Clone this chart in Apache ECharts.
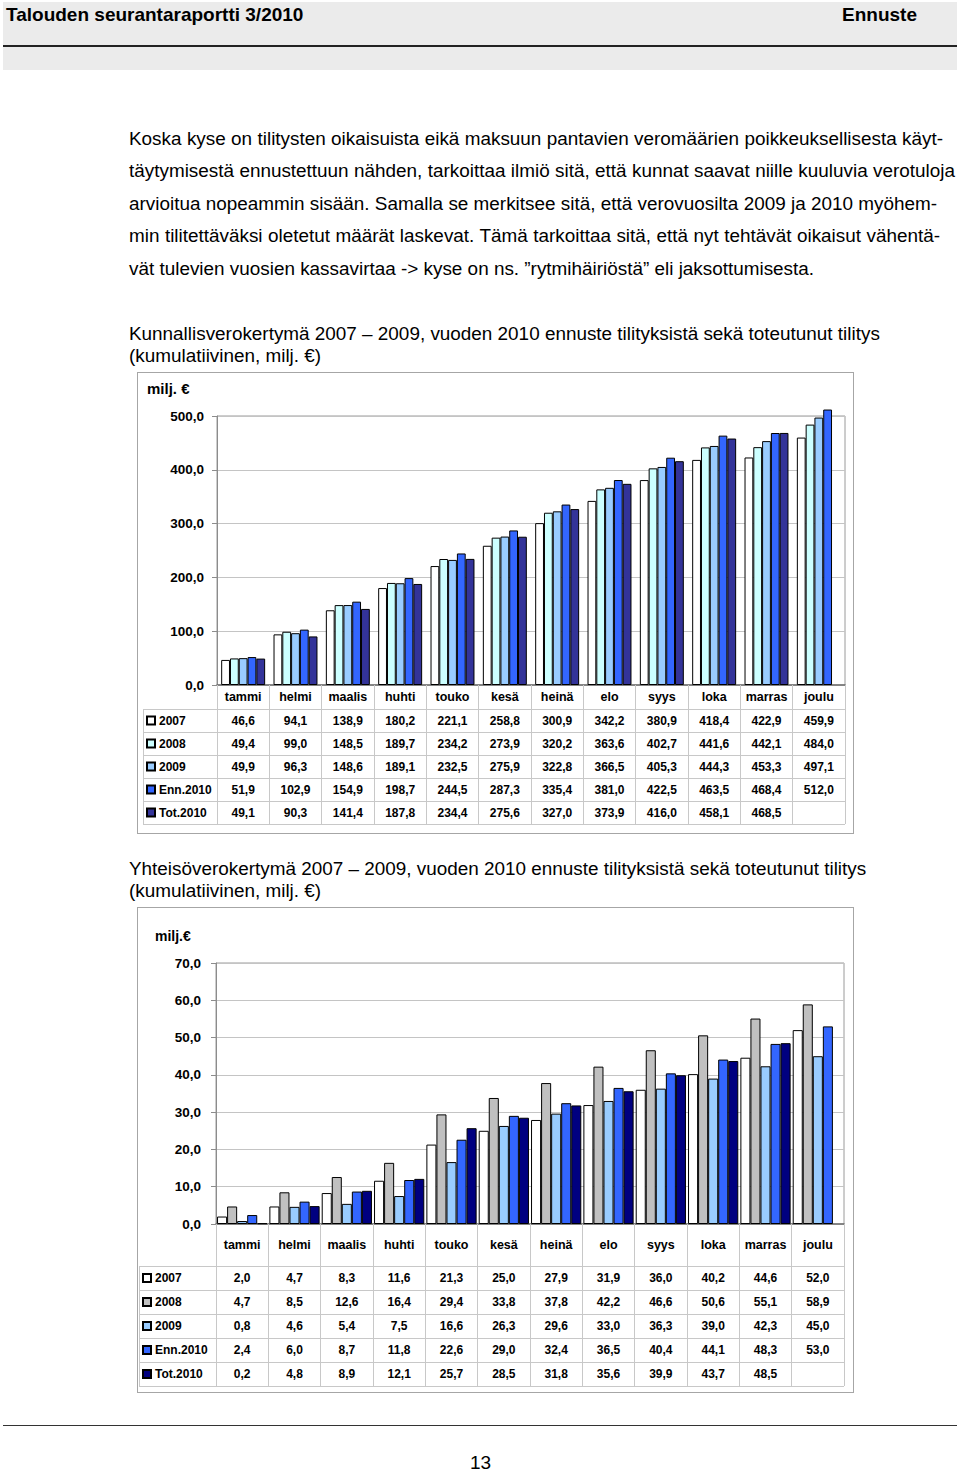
<!DOCTYPE html>
<html>
<head>
<meta charset="utf-8">
<script src="https://cdn.jsdelivr.net/npm/echarts@6/dist/echarts.min.js"></script>
<style>
  html, body { margin: 0; padding: 0; background: #fff; }
  body { width: 960px; height: 1473px; position: relative; font-family: Arial, "Liberation Sans", sans-serif; color: #000; overflow: hidden; }
  .abs { position: absolute; white-space: nowrap; }
  #band { position: absolute; left: 3px; top: 2px; width: 954px; height: 68px; background: #EBEBEB; }
  #bandline { position: absolute; left: 3px; top: 45px; width: 954px; height: 2px; background: #222; }
  .hdr { font-weight: bold; font-size: 19px; line-height: 22px; height: 22px; }
  .p { font-size: 18.9px; line-height: 22px; height: 22px; left: 129px; text-align: justify; text-align-last: justify; }
  .t { font-size: 18.9px; line-height: 22px; height: 22px; left: 129px; }
  .box { position: absolute; border: 1px solid #A6A6A6; box-sizing: border-box; }
  #footline { position: absolute; left: 3px; top: 1425px; width: 954px; height: 1px; background: #333; }
</style>
</head>
<body>
<div id="band"></div>
<div id="bandline"></div>
<div class="abs hdr" style="left:6px; top:4px;">Talouden seurantaraportti 3/2010</div>
<div class="abs hdr" style="right:43px; top:4px;">Ennuste</div>

<div class="abs p" style="top:128px; width:814px;">Koska kyse on tilitysten oikaisuista eikä maksuun pantavien veromäärien poikkeuksellisesta käyt-</div>
<div class="abs p" style="top:160px; width:826px;">täytymisestä ennustettuun nähden, tarkoittaa ilmiö sitä, että kunnat saavat niille kuuluvia verotuloja</div>
<div class="abs p" style="top:193px; width:808px;">arvioitua nopeammin sisään. Samalla se merkitsee sitä, että verovuosilta 2009 ja 2010 myöhem-</div>
<div class="abs p" style="top:225px; width:811px;">min tilitettäväksi oletetut määrät laskevat. Tämä tarkoittaa sitä, että nyt tehtävät oikaisut vähentä-</div>
<div class="abs t" style="top:258px;">vät tulevien vuosien kassavirtaa -&gt; kyse on ns. ”rytmihäiriöstä” eli jaksottumisesta.</div>

<div class="abs t" style="top:323px;">Kunnallisverokertymä 2007 – 2009, vuoden 2010 ennuste tilityksistä sekä toteutunut tilitys</div>
<div class="abs t" style="top:345px;">(kumulatiivinen, milj. €)</div>

<div class="box" id="c1" style="left:137px; top:372px; width:717px; height:462px;"></div>

<div class="abs t" style="top:858px;">Yhteisöverokertymä 2007 – 2009, vuoden 2010 ennuste tilityksistä sekä toteutunut tilitys</div>
<div class="abs t" style="top:880px;">(kumulatiivinen, milj. €)</div>

<div class="box" id="c2" style="left:137px; top:907px; width:717px; height:486px;"></div>

<div id="footline"></div>
<div class="abs" style="left:470px; top:1452px; font-size:19px; line-height:22px;">13</div>

<script>
// ---- data ----
const categories = ['tammi','helmi','maalis','huhti','touko','kesä','heinä','elo','syys','loka','marras','joulu'];
const seriesNames = ['2007','2008','2009','Enn.2010','Tot.2010'];

const kunta2007 = [46.6,94.1,138.9,180.2,221.1,258.8,300.9,342.2,380.9,418.4,422.9,459.9];
const kunta2008 = [49.4,99.0,148.5,189.7,234.2,273.9,320.2,363.6,402.7,441.6,442.1,484.0];
const kunta2009 = [49.9,96.3,148.6,189.1,232.5,275.9,322.8,366.5,405.3,444.3,453.3,497.1];
const kuntaEnn2010 = [51.9,102.9,154.9,198.7,244.5,287.3,335.4,381.0,422.5,463.5,468.4,512.0];
const kuntaTot2010 = [49.1,90.3,141.4,187.8,234.4,275.6,327.0,373.9,416.0,458.1,468.5,null];

const yhteis2007 = [2.0,4.7,8.3,11.6,21.3,25.0,27.9,31.9,36.0,40.2,44.6,52.0];
const yhteis2008 = [4.7,8.5,12.6,16.4,29.4,33.8,37.8,42.2,46.6,50.6,55.1,58.9];
const yhteis2009 = [0.8,4.6,5.4,7.5,16.6,26.3,29.6,33.0,36.3,39.0,42.3,45.0];
const yhteisEnn2010 = [2.4,6.0,8.7,11.8,22.6,29.0,32.4,36.5,40.4,44.1,48.3,53.0];
const yhteisTot2010 = [0.2,4.8,8.9,12.1,25.7,28.5,31.8,35.6,39.9,43.7,48.5,null];

const kuntaTicks = {min: 0, max: 500, interval: 100};
const yhteisTicks = {min: 0, max: 70, interval: 10};

const kuntaColors = ['#FFFFFF','#CCFFFF','#99CCFF','#3366FF','#333399'];
const yhteisColors = ['#FFFFFF','#C0C0C0','#99CCFF','#3366FF','#000080'];

// ---- helpers ----
const FONT = 'Arial, "Liberation Sans", sans-serif';
const fmt = v => (v === null || v === undefined) ? '' : v.toFixed(1).replace('.', ',');

function makeChart(domId, cfg) {
  const dom = document.getElementById(domId);
  const W = dom.clientWidth, H = dom.clientHeight;
  const chart = echarts.init(dom, null, {renderer: 'svg', width: W, height: H});
  const data = cfg.data;
  const g = cfg.grid;
  const tableTop = g.top + g.height + cfg.catRowH;
  const tableBottom = tableTop + cfg.rowH * seriesNames.length;
  const tableRight = g.left + g.width;

  const graphics = [];
  for (let i = 0; i <= seriesNames.length; i++) {
    const y = tableTop + i * cfg.rowH + 0.5;
    graphics.push({type: 'line', silent: true, z: 1,
      shape: {x1: cfg.legLeft, y1: y, x2: tableRight, y2: y},
      style: {stroke: '#C8C8C8', lineWidth: 1}});
  }
  graphics.push({type: 'line', silent: true, z: 1,
    shape: {x1: cfg.legLeft + 0.5, y1: tableTop, x2: cfg.legLeft + 0.5, y2: tableBottom},
    style: {stroke: '#C8C8C8', lineWidth: 1}});

  chart.setOption({
    animation: false,
    textStyle: {fontFamily: FONT},
    title: {text: cfg.unit, left: cfg.unitPos[0], top: cfg.unitPos[1], padding: 0,
      textStyle: {fontFamily: FONT, fontSize: cfg.unitSize, fontWeight: 'bold', color: '#000'}},
    grid: Object.assign({show: true, borderColor: '#9A9A9A', borderWidth: 1, containLabel: false}, g),
    legend: {
      orient: 'vertical', left: cfg.legLeft + 3, top: tableTop, itemGap: 0,
      itemWidth: 8, itemHeight: 8, selectedMode: false, icon: 'rect',
      data: seriesNames,
      textStyle: {fontFamily: FONT, fontSize: 12, fontWeight: 'bold', color: '#000', lineHeight: cfg.rowH, padding: [0,0,0,-1]},
      padding: 0
    },
    xAxis: {
      type: 'category', data: categories,
      axisLine: {lineStyle: {color: '#6E6E6E', width: 1.5}},
      axisTick: {show: true, interval: 0, length: tableBottom - (g.top + g.height), lineStyle: {color: '#C8C8C8'}},
      axisLabel: {
        interval: 0, margin: 0, hideOverlap: false,
        formatter: (value, idx) => '{c|' + value + '}\n' + data.map(a => '{v|' + (fmt(a[idx]) || ' ') + '}').join('\n'),
        rich: {
          c: {fontFamily: FONT, fontSize: 12.5, fontWeight: 'bold', color: '#000', lineHeight: cfg.catRowH, align: 'center'},
          v: {fontFamily: FONT, fontSize: 12, fontWeight: 'bold', color: '#000', lineHeight: cfg.rowH, align: 'center'}
        }
      },
      splitLine: {show: false}
    },
    yAxis: {
      type: 'value', min: cfg.ticks.min, max: cfg.ticks.max, interval: cfg.ticks.interval,
      axisLine: {show: true, lineStyle: {color: '#8C8C8C', width: 1}},
      axisTick: {show: true, length: 5, lineStyle: {color: '#8C8C8C'}},
      axisLabel: {margin: cfg.yMargin, formatter: v => fmt(v), fontFamily: FONT, fontSize: 13.5, fontWeight: 'bold', color: '#000'},
      splitLine: {show: true, lineStyle: {color: '#C4C4C4', width: 1}}
    },
    series: seriesNames.map((name, i) => ({
      name, type: 'bar', data: data[i], clip: false,
      barGap: 0, barCategoryGap: cfg.catGap,
      itemStyle: {color: cfg.colors[i], borderColor: '#000', borderWidth: 1}
    })),
    graphic: graphics
  });
  return chart;
}

makeChart('c1', {
  data: [kunta2007, kunta2008, kunta2009, kuntaEnn2010, kuntaTot2010],
  colors: kuntaColors, ticks: kuntaTicks,
  grid: {left: 79, top: 43, width: 628, height: 269},
  catRowH: 24, rowH: 23, legLeft: 5, catGap: '16%', yMargin: 13,
  unit: 'milj. €', unitSize: 15, unitPos: [9, 8]
});

makeChart('c2', {
  data: [yhteis2007, yhteis2008, yhteis2009, yhteisEnn2010, yhteisTot2010],
  colors: yhteisColors, ticks: yhteisTicks,
  grid: {left: 78, top: 55, width: 628, height: 261},
  catRowH: 42, rowH: 24, legLeft: 1, catGap: '4%', yMargin: 15,
  unit: 'milj.€', unitSize: 14, unitPos: [17, 21]
});
</script>
</body>
</html>
